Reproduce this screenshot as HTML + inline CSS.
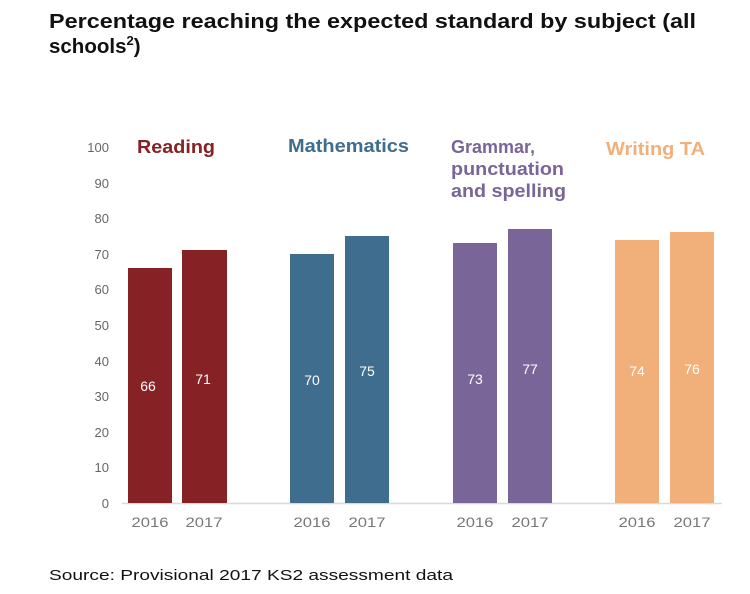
<!DOCTYPE html><html><head><style>body{margin:0;background:#fff;width:750px;height:589px;overflow:hidden}</style></head><body>
<svg width="750" height="589" xmlns="http://www.w3.org/2000/svg" font-family="Liberation Sans, Arial, sans-serif">
<text x="49" y="28" font-size="20.5" font-weight="bold" fill="#111" textLength="647" lengthAdjust="spacingAndGlyphs">Percentage reaching the expected standard by subject (all</text>
<text x="49" y="53" font-size="20.5" font-weight="bold" fill="#111">schools<tspan font-size="13" dy="-8">2</tspan><tspan dy="8">)</tspan></text>
<g font-size="13" fill="#666" text-anchor="end">
<text x="109" y="152">100</text><text x="109" y="188">90</text><text x="109" y="223">80</text><text x="109" y="259">70</text><text x="109" y="294">60</text><text x="109" y="330">50</text><text x="109" y="366">40</text><text x="109" y="401">30</text><text x="109" y="437">20</text><text x="109" y="472">10</text><text x="109" y="508">0</text>
</g>
<line x1="122" y1="503.5" x2="722" y2="503.5" stroke="#d8d8e0" stroke-width="1.5"/>
<g>
<rect x="128" y="268" width="44" height="235" fill="#862126"/>
<rect x="182" y="250" width="45" height="253" fill="#862126"/>
<rect x="290" y="254" width="44" height="249" fill="#3e6d8e"/>
<rect x="345" y="236" width="44" height="267" fill="#3e6d8e"/>
<rect x="453" y="243" width="44" height="260" fill="#7a6599"/>
<rect x="508" y="229" width="44" height="274" fill="#7a6599"/>
<rect x="615" y="240" width="44" height="263" fill="#f1b07a"/>
<rect x="670" y="232" width="44" height="271" fill="#f1b07a"/>
</g>
<g font-size="14" fill="#fff" text-anchor="middle">
<text x="148" y="391">66</text><text x="203" y="384">71</text>
<text x="312" y="385">70</text><text x="367" y="376">75</text>
<text x="475" y="384">73</text><text x="530" y="374">77</text>
<text x="637" y="376">74</text><text x="692" y="374">76</text>
</g>
<g font-size="13.5" fill="#777" text-anchor="middle">
<text x="150" y="527" textLength="37" lengthAdjust="spacingAndGlyphs">2016</text><text x="204" y="527" textLength="37" lengthAdjust="spacingAndGlyphs">2017</text>
<text x="312" y="527" textLength="37" lengthAdjust="spacingAndGlyphs">2016</text><text x="367" y="527" textLength="37" lengthAdjust="spacingAndGlyphs">2017</text>
<text x="475" y="527" textLength="37" lengthAdjust="spacingAndGlyphs">2016</text><text x="530" y="527" textLength="37" lengthAdjust="spacingAndGlyphs">2017</text>
<text x="637" y="527" textLength="37" lengthAdjust="spacingAndGlyphs">2016</text><text x="692" y="527" textLength="37" lengthAdjust="spacingAndGlyphs">2017</text>
</g>
<g font-size="18" font-weight="bold">
<text x="137" y="153" fill="#862126" textLength="78" lengthAdjust="spacingAndGlyphs">Reading</text>
<text x="288" y="152" fill="#3e6d8e" textLength="121" lengthAdjust="spacingAndGlyphs">Mathematics</text>
<text x="451" y="153" fill="#7a6599" textLength="84" lengthAdjust="spacingAndGlyphs">Grammar,</text>
<text x="451" y="175" fill="#7a6599" textLength="113" lengthAdjust="spacingAndGlyphs">punctuation</text>
<text x="451" y="197" fill="#7a6599" textLength="115" lengthAdjust="spacingAndGlyphs">and spelling</text>
<text x="606" y="155" fill="#f1b07a" textLength="99" lengthAdjust="spacingAndGlyphs">Writing TA</text>
</g>
<text x="49" y="580" font-size="15" fill="#111" textLength="404" lengthAdjust="spacingAndGlyphs">Source: Provisional 2017 KS2 assessment data</text>
</svg></body></html>
